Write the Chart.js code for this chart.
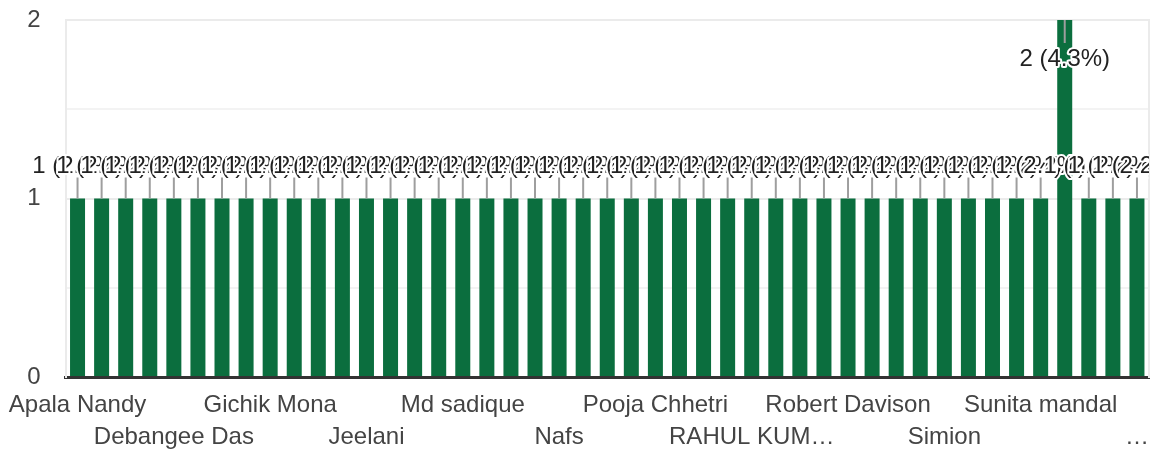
<!DOCTYPE html>
<html>
<head>
<meta charset="utf-8">
<script src="https://cdn.jsdelivr.net/npm/chart.js@4.4.0/dist/chart.umd.min.js"></script>
<style>
html,body{margin:0;padding:0;background:#fff;}
#wrap{width:1159px;height:451px;position:relative;}
</style>
</head>
<body>
<div id="wrap"><canvas id="c"></canvas></div>
<script>
// ---- data (hidden category names are placeholders in alphabetical order) ----
const categories = [
  "Apala Nandy", "Arpita Roy", "Bikash Sharma", "Chandan Kumar",
  "Debangee Das", "Dipankar Saha", "Farhan Ali", "Gautam Biswas",
  "Gichik Mona", "Hemant Rai", "Ishita Sen", "Jayanta Paul",
  "Jeelani", "Kavita Thapa", "Lakpa Sherpa", "Manish Gupta",
  "Md sadique", "Mohan Lal", "Mousumi Dey", "Nabin Tamang",
  "Nafs", "Nikita Pradhan", "Pallavi Ghosh", "Pinky Rai",
  "Pooja Chhetri", "Prakash Subba", "Priya Sarkar", "Puja Sah",
  "RAHUL KUMAR SINGH", "Rajesh Gurung", "Ravi Prasad", "Rina Lepcha",
  "Robert Davison", "Rohit Sharma", "Sanjay Mitra", "Shreya Bose",
  "Simion", "Sonam Bhutia", "Subham Roy", "Suman Barman",
  "Sunita mandal", "Suraj Thapa", "Tanvir Ahmed", "Tenzing Lama",
  "Tshering Dorjee Bhutia"
];
const responses = [
  1,1,1,1, 1,1,1,1, 1,1,1,1, 1,1,1,1, 1,1,1,1,
  1,1,1,1, 1,1,1,1, 1,1,1,1, 1,1,1,1, 1,1,1,1,
  1,2,1,1, 1
];
const yTickValues = [0, 1, 2];
const totalResponses = responses.reduce((a, b) => a + b, 0);

// ---- styling ----
const FONT_FAMILY = "'Liberation Sans', Arial, Helvetica, sans-serif";
const FONT_SIZE = 24;
const BAR_COLOR = '#0b6e3e';
const LABEL_EVERY = 4;
const LABEL_MAX_W = 170;
const EDGE_LABEL_MAX_W = 30;

Chart.defaults.font.family = FONT_FAMILY;

const measureCtx = document.createElement('canvas').getContext('2d');
function fitLabel(text, maxW) {
  measureCtx.font = FONT_SIZE + 'px ' + FONT_FAMILY;
  if (measureCtx.measureText(text).width <= maxW) return text;
  let t = text;
  while (t.length && measureCtx.measureText(t + '…').width > maxW) t = t.slice(0, -1);
  return t.trimEnd() + '…';
}

const barLabels = {
  id: 'barLabels',
  afterDatasetsDraw(chart) {
    const { ctx, chartArea } = chart;
    const meta = chart.getDatasetMeta(0);
    const yMax = chart.scales.y.max;
    ctx.save();
    ctx.beginPath();
    ctx.rect(0, 0, chartArea.right, chart.height);
    ctx.clip();
    ctx.font = FONT_SIZE + 'px ' + FONT_FAMILY;
    ctx.textAlign = 'center';
    ctx.textBaseline = 'alphabetic';
    const items = meta.data.map((bar, i) => {
      const v = responses[i];
      return {
        x: bar.x, top: bar.y, atTop: v >= yMax,
        text: v + ' (' + (v / totalResponses * 100).toFixed(1) + '%)'
      };
    });
    ctx.strokeStyle = '#9e9e9e';
    ctx.lineWidth = 2;
    items.forEach(it => {
      ctx.beginPath();
      if (it.atTop) { ctx.moveTo(it.x, it.top); ctx.lineTo(it.x, it.top + 23); }
      else { ctx.moveTo(it.x, it.top - 21); ctx.lineTo(it.x, it.top); }
      ctx.stroke();
    });
    items.forEach(it => {
      const y = it.atTop ? it.top + 46 : it.top - 26;
      ctx.lineWidth = 4;
      ctx.lineJoin = 'round';
      ctx.strokeStyle = '#ffffff';
      ctx.strokeText(it.text, it.x, y);
      ctx.fillStyle = '#222222';
      ctx.fillText(it.text, it.x, y);
    });
    ctx.restore();
  }
};

new Chart(document.getElementById('c'), {
  type: 'bar',
  data: {
    labels: categories,
    datasets: [{
      data: responses,
      backgroundColor: BAR_COLOR,
      borderWidth: 0,
      barPercentage: 0.623,
      categoryPercentage: 1.0
    }]
  },
  options: {
    responsive: true,
    maintainAspectRatio: false,
    animation: false,
    layout: { padding: { top: 20, left: 0, right: 0, bottom: 0 } },
    plugins: { legend: { display: false }, tooltip: { enabled: false } },
    scales: {
      x: {
        z: 1,
        grid: { display: false, drawTicks: false },
        border: { display: true, color: '#333333', width: 3 },
        ticks: {
          autoSkip: false, maxRotation: 0, minRotation: 0,
          padding: 12,
          color: '#444444',
          font: { size: FONT_SIZE, lineHeight: 1.333 },
          callback: function (value, index) {
            if (index % LABEL_EVERY !== 0) return '';
            const maxW = index === categories.length - 1 ? EDGE_LABEL_MAX_W : LABEL_MAX_W;
            const txt = fitLabel(categories[index], maxW);
            return (index / LABEL_EVERY) % 2 === 0 ? txt : ['', txt];
          }
        },
        afterFit: s => { s.height = 74; s.paddingLeft = 0; s.paddingRight = 0; }
      },
      y: {
        min: 0, max: 2,
        grid: {
          drawTicks: false,
          lineWidth: 2,
          color: c => c.tick.value === 0 ? 'rgba(0,0,0,0)' :
            (Number.isInteger(c.tick.value) ? '#ebebeb' : '#f3f3f3')
        },
        border: { color: '#ebebeb', width: 2 },
        ticks: {
          stepSize: 0.5,
          padding: 25,
          color: '#444444',
          font: { size: FONT_SIZE },
          callback: v => yTickValues.includes(v) ? String(v) : ''
        },
        afterFit: s => { s.width = 65.5; s.paddingTop = 0; s.paddingBottom = 0; }
      },
      yRight: {
        position: 'right',
        min: 0, max: 2,
        grid: { display: false, drawTicks: false },
        border: { color: '#ebebeb', width: 2 },
        ticks: { display: false },
        afterFit: s => { s.width = 10; s.paddingTop = 0; s.paddingBottom = 0; }
      }
    }
  },
  plugins: [barLabels]
});
</script>
</body>
</html>
